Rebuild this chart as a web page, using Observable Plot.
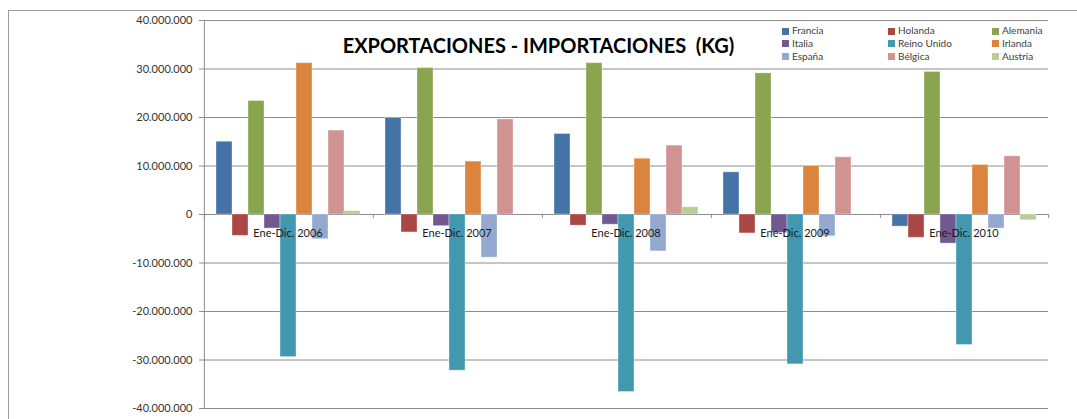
<!DOCTYPE html>
<html><head><meta charset="utf-8">
<script src="https://cdn.jsdelivr.net/npm/d3@7"></script>
<script src="https://cdn.jsdelivr.net/npm/@observablehq/plot@0.6"></script>
<style>
body{margin:0;background:#fff;}
#wrap{position:relative;width:1077px;height:419px;overflow:hidden;font-family:Lato,sans-serif;}
#wrap svg{display:block;position:absolute;left:0;top:0;}
#border{position:absolute;left:8px;top:10px;width:1200px;height:500px;border-left:1px solid #a0a0a0;border-top:1px solid #a0a0a0;pointer-events:none;}
#title{position:absolute;left:0;width:1077px;top:33px;text-align:center;font-family:Lato,sans-serif;font-weight:bold;font-size:20px;color:#000;white-space:pre;}
#legend{position:absolute;left:782px;top:24px;display:grid;grid-template-columns:106px 104px 80px;font-family:Lato,sans-serif;font-size:10px;color:#404040;line-height:12.8px;}
#legend span.sw{display:inline-block;width:7px;height:7px;margin-right:3px;vertical-align:-0.5px;}
</style>
</head><body>
<div id="wrap">
  <div id="title">EXPORTACIONES - IMPORTACIONES  (KG)</div>
  <div id="legend"></div>
  <div id="border"></div>
</div>
<script>
// categories
const years = ["2006", "2007", "2008", "2009", "2010"];
const categoryLabels = ["Ene-Dic. 2006", "Ene-Dic. 2007", "Ene-Dic. 2008", "Ene-Dic. 2009", "Ene-Dic. 2010"];
const countries = ["Francia", "Holanda", "Alemania", "Italia", "Reino Unido", "Irlanda", "España", "Bélgica", "Austria"];
const colors = ["#4572A7", "#AA4643", "#89A54E", "#71588F", "#4198AF", "#DB843D", "#93A9CF", "#D19392", "#B9CD96"];

// series values (kg), one value per year 2006..2010
const francia    = [15000000, 19900000, 16600000, 8700000, -2500000];
const holanda    = [-4400000, -3700000, -2300000, -3900000, -4800000];
const alemania   = [23400000, 30200000, 31200000, 29100000, 29400000];
const italia     = [-2900000, -2400000, -2100000, -3800000, -6000000];
const reinoUnido = [-29400000, -32200000, -36600000, -30900000, -26900000];
const irlanda    = [31200000, 10900000, 11500000, 10000000, 10200000];
const espana     = [-5100000, -8900000, -7600000, -4500000, -2900000];
const belgica    = [17300000, 19600000, 14200000, 11800000, 12000000];
const austria    = [700000, 0, 1500000, 0, -1200000];

// tick labels
const yTicks = [-40000000, -30000000, -20000000, -10000000, 0, 10000000, 20000000, 30000000, 40000000];

const series = [francia, holanda, alemania, italia, reinoUnido, irlanda, espana, belgica, austria];
const data = years.flatMap((yr, i) => countries.map((c, j) => ({year: yr, country: c, value: series[j][i]})));
const labelOf = Object.fromEntries(years.map((y, i) => [y, categoryLabels[i]]));

const fmt = d => d3.format(",")(d).replace(/,/g, ".").replace("\u2212", "-");

const W = 1077, H = 419, ML = 203, MR = 29;
const step = ((W - ML - MR) / years.length) / (countries.length + 1.5);

const plot = Plot.plot({
  width: W, height: H,
  marginLeft: ML, marginRight: MR, marginTop: 20, marginBottom: 11,
  style: {fontFamily: "Lato, sans-serif", fontSize: "11px", color: "#333", background: "transparent", overflow: "visible"},
  fx: {domain: years, padding: 0, axis: null},
  x: {domain: countries, paddingInner: 0, paddingOuter: 0.75, axis: null},
  y: {domain: [-40000000, 40000000], axis: null},
  color: {domain: countries, range: colors},
  marks: [
    Plot.gridY(yTicks, {stroke: "#8c8c8c", strokeOpacity: 1}),
    Plot.barY(data, {fx: "year", x: "country", y: "value", fill: "country", stroke: "#fff", strokeOpacity: 0.35, strokeWidth: 1}),
    // category boundary ticks on the zero line
    Plot.ruleX(years, {fx: d => d, x: () => countries[0], y1: 0, y2: 0, insetBottom: -4, dx: -1.25 * step, stroke: "#8c8c8c"}),
    Plot.ruleX(years.slice(-1), {fx: d => d, x: () => countries[countries.length - 1], y1: 0, y2: 0, insetBottom: -4, dx: 1.25 * step, stroke: "#8c8c8c"}),
    // y axis line
    Plot.ruleX(years.slice(0, 1), {fx: d => d, x: () => countries[0], dx: -1.25 * step, stroke: "#8c8c8c"}),
    Plot.axisY(yTicks, {tickFormat: fmt, tickSize: 4, tickPadding: 7, stroke: "#8c8c8c", fill: "#333", label: null}),
    Plot.text(years, {fx: d => d, y: () => 0, text: d => labelOf[d], dy: 19, fill: "#1a1a1a", fontSize: 11})
  ]
});
const wrap = document.getElementById("wrap");
wrap.insertBefore(plot, wrap.firstChild);

const color = plot.scale("color");
const legend = document.getElementById("legend");
const order = ["Francia", "Holanda", "Alemania", "Italia", "Reino Unido", "Irlanda", "España", "Bélgica", "Austria"];
for (const c of order) {
  const d = document.createElement("div");
  const s = document.createElement("span");
  s.className = "sw";
  s.style.background = color.apply(c);
  d.appendChild(s);
  d.appendChild(document.createTextNode(c));
  legend.appendChild(d);
}
</script>
</body></html>
